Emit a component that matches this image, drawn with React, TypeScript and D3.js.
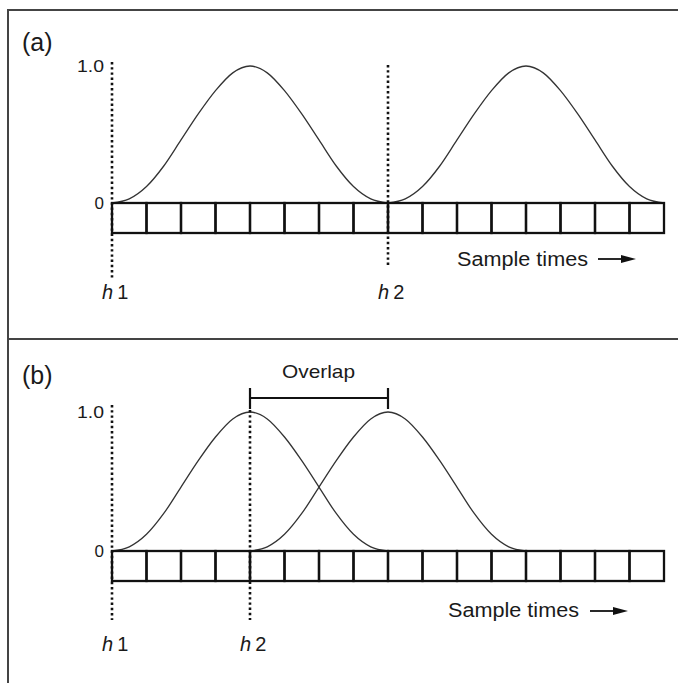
import React from "react";
import * as d3 from "d3";

// data
const sampleCount = 16;
const windowLength = 8; // samples covered by one analysis window
// window height, read every half sample across one window
const windowShape = [0, 0.03, 0.12, 0.27, 0.46, 0.65, 0.82, 0.95, 1, 0.95, 0.82, 0.65, 0.46, 0.27, 0.12, 0.03, 0];
const panelNames = ["(a)", "(b)"];
const hopStarts = [[0, 8], [0, 4]]; // where h1 and h2 sit in each panel
const markerNames = ["1", "2"];
const yTicks = [0, 1];
const yTickLabels = ["0", "1.0"];
const overlapRange = [4, 8];
const overlapLabel = "Overlap";
const axisTitle = "Sample times";

// layout for each panel
const panels = [
  { zeroY: 203, oneY: 66, labelY: 51, markerEnd: [279, 267], markerTop: [62, 65], hLabelY: 299, titleY: 266, arrowY: 259 },
  { zeroY: 551, oneY: 412, labelY: 384, markerEnd: [620, 620], markerTop: [405, 410], hLabelY: 651, titleY: 617, arrowY: 611 },
];

const W = 678;
const H = 683;
const font = "'Liberation Sans', Arial, Helvetica, sans-serif";

const x = d3.scaleLinear().domain([0, sampleCount]).range([112, 664]);
const boxHeight = 30;

function Panel({ idx }: { idx: number }) {
  const p = panels[idx];
  const y = d3.scaleLinear().domain([0, 1]).range([p.zeroY, p.oneY]);
  const starts = hopStarts[idx];
  const step = windowLength / (windowShape.length - 1);
  const line = d3
    .line<number>()
    .x((d, i) => x(i * step))
    .y((d) => y(d))
    .curve(d3.curveMonotoneX);

  const samples = d3.range(sampleCount);
  const tx = idx === 0 ? 457 : 448;
  const ax = idx === 0 ? 598 : 590;

  return (
    <g fill="#1a1a1a">
      <text x={22} y={p.labelY} fontFamily={font} fontSize={25}>
        {panelNames[idx]}
      </text>

      {yTicks.map((t, i) => (
        <text
          key={t}
          x={104}
          y={y(t)}
          dy="0.36em"
          textAnchor="end"
          fontFamily={font}
          fontSize={17}
          textLength={i === 1 ? 27 : undefined}
          lengthAdjust="spacingAndGlyphs"
        >
          {yTickLabels[i]}
        </text>
      ))}

      {/* window curves */}
      {starts.map((s, i) => (
        <path
          key={"c" + i}
          d={line(windowShape) || ""}
          transform={`translate(${x(s) - x(0)},0)`}
          fill="none"
          stroke="#333"
          strokeWidth={1.3}
        />
      ))}

      {/* sample boxes */}
      {samples.map((s) => (
        <rect
          key={s}
          x={x(s)}
          y={p.zeroY}
          width={x(s + 1) - x(s)}
          height={boxHeight}
          fill="none"
          stroke="#111"
          strokeWidth={2.3}
        />
      ))}

      {/* hop markers */}
      {starts.map((s, i) => (
        <g key={"m" + i}>
          <line
            x1={x(s)}
            x2={x(s)}
            y1={p.markerTop[i]}
            y2={p.markerEnd[i]}
            stroke="#111"
            strokeWidth={2.6}
            strokeDasharray="2.4 2.8"
          />
          <text x={x(s) - 10} y={p.hLabelY} fontFamily={font} fontSize={20}>
            <tspan fontStyle="italic">h</tspan>
            <tspan dx={4}>{markerNames[i]}</tspan>
          </text>
        </g>
      ))}

      {idx === 1 && (
        <g>
          <g stroke="#111" strokeWidth={2.2}>
            <line x1={x(overlapRange[0])} x2={x(overlapRange[1])} y1={398} y2={398} />
            <line x1={x(overlapRange[0])} x2={x(overlapRange[0])} y1={388} y2={409} />
            <line x1={x(overlapRange[1])} x2={x(overlapRange[1])} y1={388} y2={409} />
          </g>
          <text
            x={282}
            y={378}
            fontFamily={font}
            fontSize={19}
            textLength={73}
            lengthAdjust="spacingAndGlyphs"
          >
            {overlapLabel}
          </text>
        </g>
      )}

      {/* axis title with arrow */}
      <text x={tx} y={p.titleY} fontFamily={font} fontSize={20} textLength={131} lengthAdjust="spacingAndGlyphs">
        {axisTitle}
      </text>
      <line x1={ax} x2={ax + 26} y1={p.arrowY} y2={p.arrowY} stroke="#111" strokeWidth={1.8} />
      <path
        d={
          d3.line()([
            [ax + 23, p.arrowY - 4],
            [ax + 38, p.arrowY],
            [ax + 23, p.arrowY + 4],
          ]) + "Z"
        }
        fill="#111"
      />
    </g>
  );
}

export default function App() {
  return (
    <div style={{ position: "absolute", left: 0, top: 0, width: W, height: H, background: "#fff" }}>
      <svg width={W} height={H} style={{ display: "block" }}>
        <rect width={W} height={H} fill="#fff" />
        {/* figure frame */}
        <g stroke="#444" strokeWidth={2}>
          <line x1={7} x2={W} y1={10} y2={10} />
          <line x1={7} x2={W} y1={339} y2={339} />
          <line x1={8} x2={8} y1={10} y2={H} />
        </g>
        <Panel idx={0} />
        <Panel idx={1} />
      </svg>
    </div>
  );
}
